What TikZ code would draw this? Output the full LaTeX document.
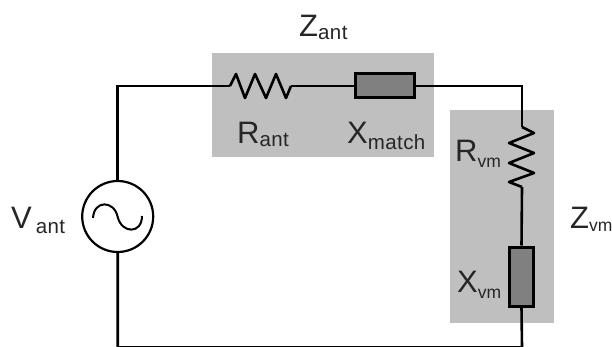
\documentclass[tikz,border=0pt]{standalone}
\usepackage{fontspec}
\setmainfont{Liberation Sans}
\newcommand{\zlabel}[3]{\fontsize{31}{31}\selectfont #1\raisebox{-#3}{\fontsize{20.5}{21}\selectfont\addfontfeature{LetterSpace=2}#2}}
\newcommand{\zvlabel}[3]{\fontsize{31}{31}\selectfont #1\raisebox{-#3}{\fontsize{17.5}{18}\selectfont #2}}
\definecolor{boxgray}{gray}{0.75}
\definecolor{partgray}{gray}{0.5}
\begin{document}
\begin{tikzpicture}[x=1pt,y=-1pt,
   wire/.style={line width=2.6pt},
   part/.style={rectangle,draw,line width=3pt,fill=partgray,inner sep=0pt},
   lbl/.style={anchor=base west,inner sep=0pt,text=black!85}]
   \useasboundingbox (0,0) rectangle (612,347);
   % Grey boxes
   \fill[boxgray] (212,53) rectangle (434,157);
   \fill[boxgray] (450,110) rectangle (554,323);
   % Source
   \node[circle,draw,line width=2.2pt,minimum size=71pt,inner sep=0pt] (vsrc) at (117.7,216.5) {};
   \draw[line width=2pt] (93,218) .. controls (94,200) and (114,200) .. (117.7,217)
      .. controls (122,234) and (142,234) .. (142,216);
   % Parts
   \node[part,minimum width=59pt,minimum height=24pt] (xmatch) at (385,86) {};
   \node[part,minimum width=24pt,minimum height=59pt] (xvm) at (521.5,276.5) {};
   \coordinate (rantin) at (230,86);
   \coordinate (rantout) at (291,86);
   \coordinate (rvmin) at (522,127);
   \coordinate (rvmout) at (522,187);
   \coordinate (topleft) at (117.7,86);
   \coordinate (botleft) at (117.7,347.4);
   \coordinate (botright) at (522,347.4);
   % Resistors
   \draw[wire,line join=round] (rantin) -- (236,74) -- (245,98) -- (255,74) -- (266,98) -- (276,74) -- (286,98) -- (rantout);
   \draw[wire,line join=round] (rvmin) -- (534,133) -- (509,143) -- (534,153) -- (509,163) -- (534,173) -- (509,182) -- (rvmout);
   % Wires
   \draw[wire] (vsrc.north) -- (topleft) -- (rantin);
   \draw[wire] (rantout) -- (xmatch.west);
   \draw[wire] (xmatch.east) -| (rvmin);
   \draw[wire] (rvmout) -- (xvm.north);
   \draw[wire] (vsrc.south) -- (botleft) -- (botright) -- (xvm.south);
   % Labels
   \node[lbl] (zant) at (299,37) {\zlabel{Z}{ant}{3pt}};
   \node[lbl] (rant) at (237,144) {\zlabel{R}{ant}{3pt}};
   \node[lbl] (xm) at (347,144) {\zlabel{X}{match}{6pt}};
   \node[lbl] (vant) at (11,229) {\zlabel{V\kern4pt}{ant}{5pt}};
   \node[lbl] (zvm) at (570,228) {\zvlabel{Z}{vm}{3pt}};
   \node[lbl] (rv) at (455,162) {\zvlabel{R}{vm}{6pt}};
   \node[lbl] (xv) at (457,292) {\zvlabel{X}{vm}{6pt}};
\end{tikzpicture}
\end{document}
